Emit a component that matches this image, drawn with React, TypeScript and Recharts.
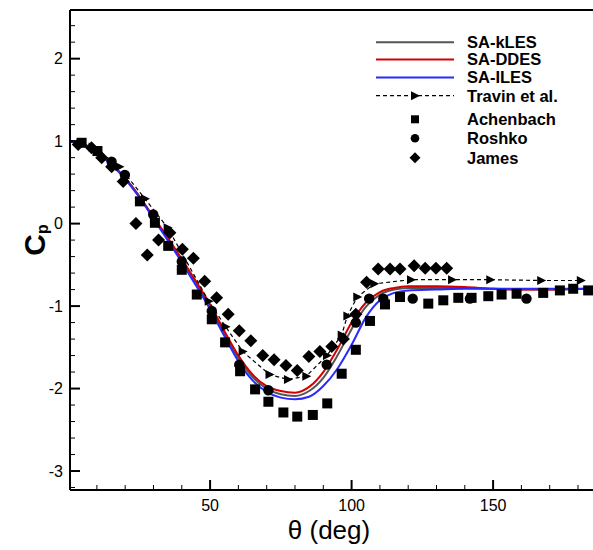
import React from 'react';
import { ComposedChart, Line, Scatter, XAxis, YAxis, ReferenceLine } from 'recharts';

// ---------- axes ----------
const X_DOMAIN: [number, number] = [0.5, 185.3];
const Y_DOMAIN: [number, number] = [-3.23, 2.59];
const X_TICKS = [10, 20, 30, 40, 50, 60, 70, 80, 90, 100, 110, 120, 130, 140, 150, 160, 170, 180];
const X_LABELED = [50, 100, 150];
const Y_TICKS = [-3.2, -3.0, -2.8, -2.6, -2.4, -2.2, -2.0, -1.8, -1.6, -1.4, -1.2, -1.0, -0.8, -0.6, -0.4, -0.2, 0, 0.2, 0.4, 0.6, 0.8, 1.0, 1.2, 1.4, 1.6, 1.8, 2.0, 2.2, 2.4];
const Y_LABELED = [-3, -2, -1, 0, 1, 2];

// ---------- CFD curves ----------
const CURVE_THETA = [0, 5, 10, 15, 20, 25, 30, 35, 40, 45, 50, 55, 60, 65, 70, 75, 80, 85, 90, 95, 100, 105, 110, 115, 120, 130, 140, 150, 160, 170, 186];
const KLES_CP = [1.0, 0.97, 0.87, 0.73, 0.55, 0.33, 0.07, -0.18, -0.45, -0.72, -1.01, -1.33, -1.63, -1.86, -2.0, -2.07, -2.09, -2.03, -1.87, -1.6, -1.28, -1.01, -0.86, -0.8, -0.78, -0.78, -0.78, -0.79, -0.8, -0.8, -0.79];
const DDES_CP = [1.0, 0.97, 0.87, 0.73, 0.55, 0.33, 0.08, -0.17, -0.43, -0.7, -0.98, -1.3, -1.6, -1.83, -1.97, -2.03, -2.05, -1.98, -1.8, -1.52, -1.2, -0.96, -0.83, -0.78, -0.76, -0.76, -0.77, -0.79, -0.8, -0.8, -0.79];
const ILES_CP = [1.0, 0.97, 0.86, 0.72, 0.54, 0.32, 0.06, -0.2, -0.47, -0.75, -1.04, -1.36, -1.67, -1.9, -2.04, -2.11, -2.13, -2.1, -1.97, -1.76, -1.47, -1.14, -0.93, -0.84, -0.81, -0.8, -0.79, -0.79, -0.79, -0.79, -0.79];

// ---------- Travin et al. ----------
const TRAVIN_THETA = [0, 8.5, 18, 27, 35, 49.5, 55.5, 61.5, 71, 77.5, 84, 91.3, 96.5, 98.5, 102, 108, 121, 135.5, 149, 167, 181];
const TRAVIN_CP = [1.0, 0.93, 0.69, 0.3, -0.05, -0.94, -1.25, -1.55, -1.83, -1.89, -1.85, -1.6, -1.35, -1.12, -0.89, -0.73, -0.68, -0.68, -0.68, -0.69, -0.69];

// ---------- Achenbach ----------
const ACH_THETA = [4.6, 10.2, 25.2, 30.5, 35.2, 40, 45.3, 50.6, 55.3, 60.6, 65.9, 70.6, 75.9, 80.8, 86.3, 91.4, 96.5, 101.5, 106.5, 111.8, 117.1, 127.1, 132.4, 137.7, 142.4, 148.3, 153, 158.3, 167.7, 173.6, 178.3, 183.6];
const ACH_CP = [0.98, 0.88, 0.27, 0.01, -0.27, -0.56, -0.86, -1.16, -1.44, -1.79, -2.01, -2.16, -2.29, -2.34, -2.32, -2.18, -1.82, -1.53, -1.18, -0.98, -0.89, -0.97, -0.93, -0.9, -0.9, -0.88, -0.86, -0.85, -0.84, -0.81, -0.79, -0.81];

// ---------- Roshko ----------
const ROSHKO_THETA = [15.2, 19.9, 29.9, 40, 50.6, 60.3, 70.6, 91.2, 101.5, 106.2, 111.2, 121.6, 141.8, 161.8];
const ROSHKO_CP = [0.75, 0.59, 0.11, -0.46, -1.06, -1.71, -2.02, -1.71, -1.2, -0.91, -0.91, -0.91, -0.91, -0.91];

// ---------- James ----------
const JAMES_THETA = [3.4, 8.1, 11.7, 15.2, 19.3, 23.8, 27.8, 31.8, 35.8, 40.2, 44.1, 48.1, 52.3, 56.4, 60.3, 64.4, 68.6, 72.6, 76.8, 80.8, 84.9, 88.8, 93, 97.1, 101.5, 105.3, 109.4, 113.6, 117.1, 122.1, 126, 129.8, 133.6];
const JAMES_CP = [0.96, 0.92, 0.8, 0.69, 0.51, 0.0, -0.38, -0.2, -0.11, -0.31, -0.42, -0.7, -0.9, -1.1, -1.3, -1.42, -1.6, -1.65, -1.72, -1.78, -1.61, -1.55, -1.49, -1.4, -1.1, -0.71, -0.55, -0.55, -0.55, -0.51, -0.54, -0.54, -0.54];

const zip = (xs: number[], ys: number[]) => xs.map((x, i) => ({ x, y: ys[i] }));

const kles = zip(CURVE_THETA, KLES_CP);
const ddes = zip(CURVE_THETA, DDES_CP);
const iles = zip(CURVE_THETA, ILES_CP);
const travin = zip(TRAVIN_THETA, TRAVIN_CP);
const achenbach = zip(ACH_THETA, ACH_CP);
const roshko = zip(ROSHKO_THETA, ROSHKO_CP);
const james = zip(JAMES_THETA, JAMES_CP);

const FONT = '"Liberation Sans", Arial, Helvetica, sans-serif';
const GRAY = '#555555';
const RED = '#d40000';
const BLUE = '#2a2aff';

const XTick = (props: any) => {
  const { x, y, payload } = props;
  const v = payload.value;
  const major = X_LABELED.includes(v);
  return (
    <g>
      <line x1={x} x2={x} y1={y} y2={y - (major ? 10 : 5)} stroke="#000" strokeWidth={major ? 2 : 1} />
      {major && (
        <text x={x} y={y + 21} textAnchor="middle" fontFamily={FONT} fontSize={16} fill="#000">
          {v}
        </text>
      )}
    </g>
  );
};

const YTick = (props: any) => {
  const { x, y, payload } = props;
  const v = payload.value;
  const major = Y_LABELED.some((m) => Math.abs(m - v) < 1e-6);
  return (
    <g>
      <line x1={x} x2={x + (major ? 10 : 5)} y1={y} y2={y} stroke="#000" strokeWidth={major ? 2 : 1} />
      {major && (
        <text x={x - 7} y={y} dy="0.36em" textAnchor="end" fontFamily={FONT} fontSize={16} fill="#000">
          {Math.round(v)}
        </text>
      )}
    </g>
  );
};

const Square = (p: any) => <rect x={p.cx - 5} y={p.cy - 5} width={10} height={10} fill="#000" />;
const Circle = (p: any) => <circle cx={p.cx} cy={p.cy} r={5.2} fill="#000" />;
const Diamond = (p: any) => (
  <path d={`M${p.cx},${p.cy - 6.5}L${p.cx + 6.5},${p.cy}L${p.cx},${p.cy + 6.5}L${p.cx - 6.5},${p.cy}Z`} fill="#000" />
);
const triPath = (cx: number, cy: number) => `M${cx - 4},${cy - 4.5}L${cx + 5},${cy}L${cx - 4},${cy + 4.5}Z`;
const TriDot = (p: any) => <path key={`tri-${p.index}`} d={triPath(p.cx, p.cy)} fill="#000" />;

const YLabel = () => (
  <text transform="translate(45,240) rotate(-90)" textAnchor="middle" fontFamily={FONT} fill="#000" fontWeight="bold">
    <tspan fontSize={30}>C</tspan>
    <tspan fontSize={16} dy={3}>p</tspan>
  </text>
);

const XLabel = () => (
  <text x={329} y={539} textAnchor="middle" fontFamily={FONT} fontSize={26} fill="#000">
    θ (deg)
  </text>
);

const LegendOverlay = () => {
  const lx1 = 376;
  const lx2 = 454;
  const sx = 415;
  const tx = 467;
  const rows = [42.3, 59.5, 77.5, 95.7, 119.3, 138.3, 157.7];
  const labels = ['SA-kLES', 'SA-DDES', 'SA-ILES', 'Travin et al.', 'Achenbach', 'Roshko', 'James'];
  return (
    <svg width={593} height={550} style={{ position: 'absolute', left: 0, top: 0, pointerEvents: 'none' }}>
      <line x1={lx1} x2={lx2} y1={rows[0]} y2={rows[0]} stroke={GRAY} strokeWidth={2} />
      <line x1={lx1} x2={lx2} y1={rows[1]} y2={rows[1]} stroke={RED} strokeWidth={2} />
      <line x1={lx1} x2={lx2} y1={rows[2]} y2={rows[2]} stroke={BLUE} strokeWidth={2} />
      <line x1={lx1} x2={lx2} y1={rows[3]} y2={rows[3]} stroke="#000" strokeWidth={1.2} strokeDasharray="4 3" />
      <path d={triPath(sx, rows[3])} fill="#000" />
      <rect x={sx - 4} y={rows[4] - 4} width={8} height={8} fill="#000" />
      <circle cx={sx} cy={rows[5]} r={4.3} fill="#000" />
      <path d={`M${sx},${rows[6] - 5.5}L${sx + 5.5},${rows[6]}L${sx},${rows[6] + 5.5}L${sx - 5.5},${rows[6]}Z`} fill="#000" />
      {labels.map((t, i) => (
        <text key={t} x={tx} y={rows[i]} dy="0.36em" fontFamily={FONT} fontWeight="bold" fontSize={16.5} fill="#000">
          {t}
        </text>
      ))}
    </svg>
  );
};

export default function App() {
  return (
    <div style={{ position: 'absolute', left: 0, top: 0, width: 593, height: 550, overflow: 'hidden', background: '#fff' }}>
      <ComposedChart width={593} height={550} margin={{ top: 10, right: 0, bottom: 0, left: 0 }}>
        <XAxis
          type="number"
          dataKey="x"
          domain={X_DOMAIN}
          ticks={X_TICKS}
          allowDataOverflow
          height={60}
          tickSize={0}
          tickMargin={0}
          tickLine={false}
          axisLine={{ stroke: '#000', strokeWidth: 2 }}
          tick={<XTick />}
          interval={0}
          label={<XLabel />}
        />
        <YAxis
          type="number"
          dataKey="y"
          domain={Y_DOMAIN}
          ticks={Y_TICKS}
          allowDataOverflow
          width={70}
          tickSize={0}
          tickMargin={0}
          tickLine={false}
          axisLine={{ stroke: '#000', strokeWidth: 2 }}
          tick={<YTick />}
          interval={0}
          label={<YLabel />}
        />
        <ReferenceLine y={Y_DOMAIN[1]} stroke="#000" strokeWidth={2} ifOverflow="extendDomain" />
        <Line data={kles} dataKey="y" type="monotone" stroke={GRAY} strokeWidth={2} dot={false} isAnimationActive={false} />
        <Line data={ddes} dataKey="y" type="monotone" stroke={RED} strokeWidth={2} dot={false} isAnimationActive={false} />
        <Line data={iles} dataKey="y" type="monotone" stroke={BLUE} strokeWidth={2} dot={false} isAnimationActive={false} />
        <Line data={travin} dataKey="y" type="linear" stroke="#000" strokeWidth={1.2} strokeDasharray="4 3" dot={TriDot} isAnimationActive={false} />
        <Scatter data={achenbach} dataKey="y" shape={Square} isAnimationActive={false} />
        <Scatter data={roshko} dataKey="y" shape={Circle} isAnimationActive={false} />
        <Scatter data={james} dataKey="y" shape={Diamond} isAnimationActive={false} />
      </ComposedChart>
      <LegendOverlay />
    </div>
  );
}
